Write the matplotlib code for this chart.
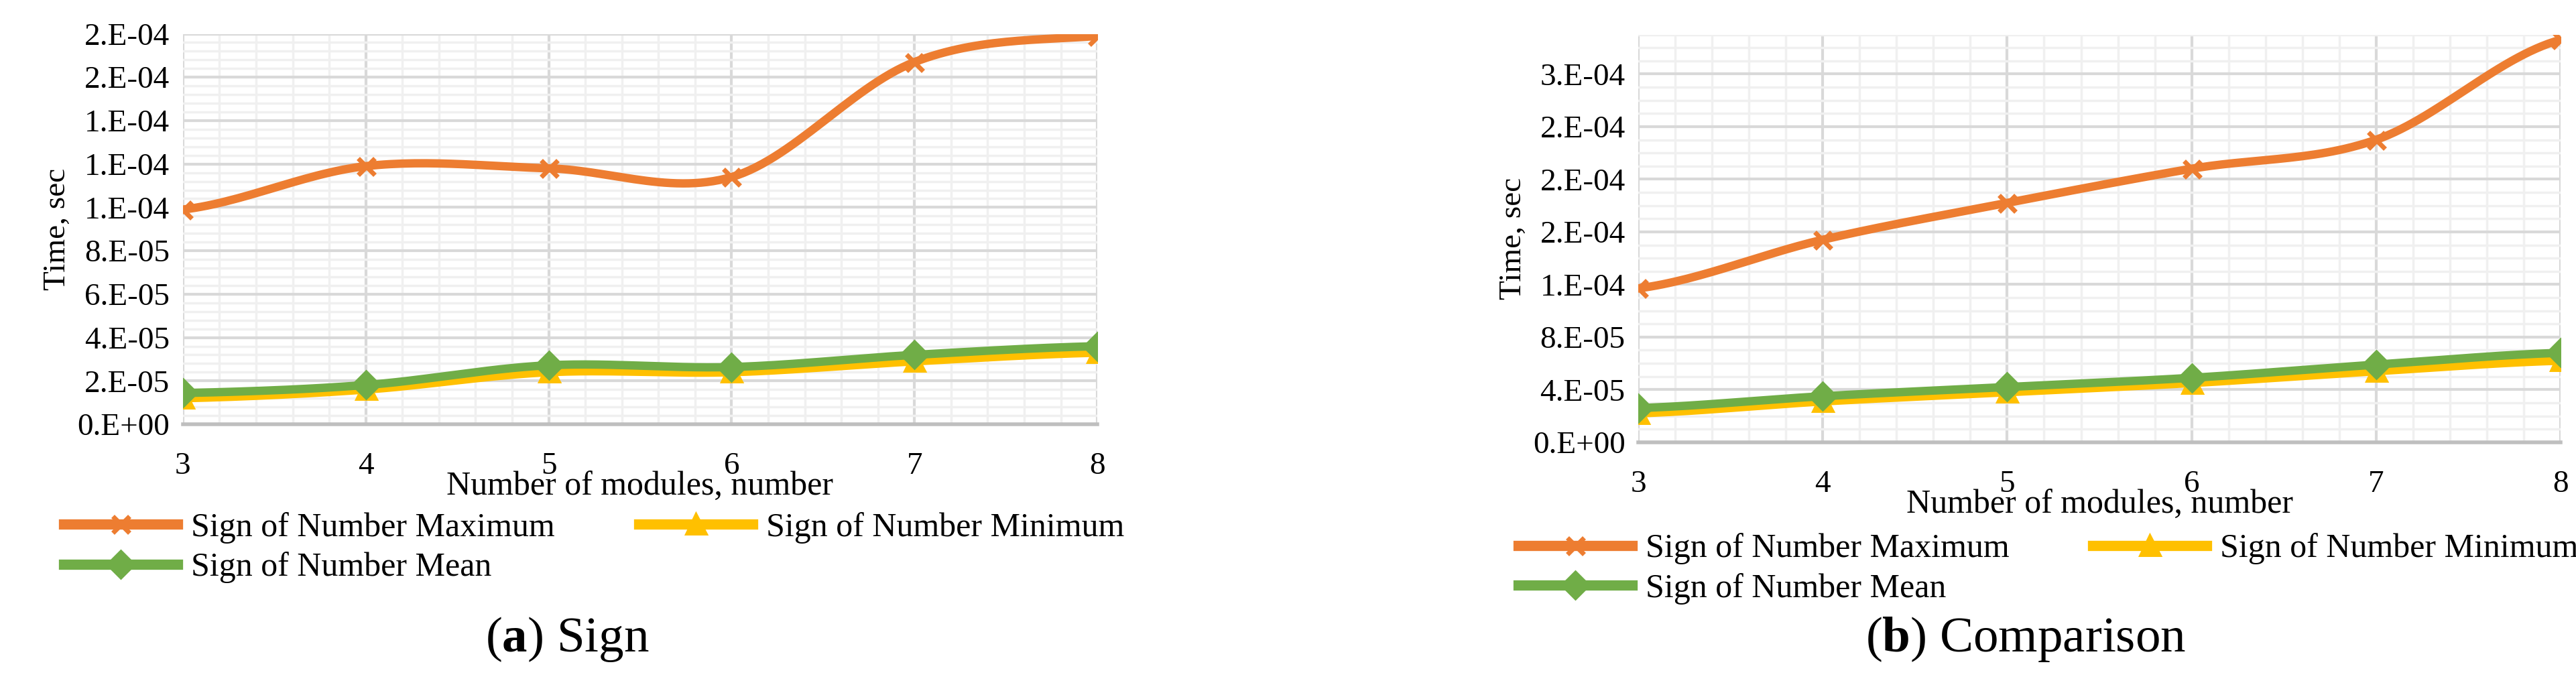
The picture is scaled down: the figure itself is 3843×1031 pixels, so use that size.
import numpy as np
import matplotlib
matplotlib.use("Agg")
import matplotlib.pyplot as plt
from matplotlib.ticker import FixedLocator, MultipleLocator

plt.rcParams['font.family'] = ['Liberation Serif', 'DejaVu Serif']
plt.rcParams['mathtext.fontset'] = 'custom'
plt.rcParams['mathtext.rm'] = 'Liberation Serif'
plt.rcParams['mathtext.bf'] = 'Liberation Serif:bold'

modules = [3, 4, 5, 6, 7, 8]
sign_max = [0.99e-4, 1.19e-4, 1.18e-4, 1.14e-4, 1.67e-4, 1.79e-4]
sign_min = [1.2e-5, 1.6e-5, 2.4e-5, 2.4e-5, 2.9e-5, 3.3e-5]
sign_mean = [1.44e-5, 1.81e-5, 2.72e-5, 2.64e-5, 3.2e-5, 3.6e-5]
cmp_max = [1.17e-4, 1.54e-4, 1.82e-4, 2.08e-4, 2.30e-4, 3.06e-4]
cmp_min = [2.2e-5, 3.1e-5, 3.8e-5, 4.5e-5, 5.4e-5, 6.2e-5]
cmp_mean = [2.6e-5, 3.5e-5, 4.2e-5, 4.9e-5, 5.9e-5, 6.8e-5]
series_names = ["Sign of Number Maximum", "Sign of Number Minimum", "Sign of Number Mean"]
captions = [("a", "Sign"), ("b", "Comparison")]

def smooth(x, y, n=30):
    x = np.asarray(x, float); y = np.asarray(y, float)
    xs, ys = [], []
    for i in range(len(x) - 1):
        p0 = y[i - 1] if i > 0 else y[i]
        p1, p2 = y[i], y[i + 1]
        p3 = y[i + 2] if i + 2 < len(y) else y[i + 1]
        t = np.linspace(0, 1, n, endpoint=False)
        yy = 0.5 * ((2 * p1) + (-p0 + p2) * t + (2 * p0 - 5 * p1 + 4 * p2 - p3) * t**2
                    + (-p0 + 3 * p1 - 3 * p2 + p3) * t**3)
        xs.append(x[i] + t * (x[i + 1] - x[i])); ys.append(yy)
    xs.append([x[-1]]); ys.append([y[-1]])
    return np.concatenate(xs), np.concatenate(ys)

def fmt(v):
    if v == 0:
        return "0.E+00"
    e = int(np.floor(np.log10(abs(v))))
    m = v / 10**e
    if round(m) >= 10:
        m /= 10; e += 1
    return f"{int(round(m))}.E{e:+03d}"

fig = plt.figure(figsize=(38.43, 10.31), dpi=100)
colors = ["#ED7D31", "#FFC000", "#70AD47"]
markers = ["x", "^", "D"]
panels = [
    ([0.071, 0.386, 0.355, 0.565], [sign_max, sign_min, sign_mean], 2e-5, 1.8e-4, 0.4e-5),
    ([0.636, 0.36, 0.358, 0.59], [cmp_max, cmp_min, cmp_mean], 4e-5, 3.1e-4, 1e-5),
]
for k, (rect, data, step, top, minor) in enumerate(panels):
    ax = fig.add_axes(rect)
    handles = []
    for ys, c, m, nm in zip(data, colors, markers, series_names):
        xs, yy = smooth(modules, ys)
        ax.plot(xs, yy, color=c, lw=9, solid_capstyle='round', zorder=3)
        ax.plot(modules, ys, ls='none', marker=m, color=c, ms=18, mew=5, zorder=4)
        h, = ax.plot([], [], color=c, lw=11, marker=m, ms=18, mew=5, label=nm)
        handles.append(h)
    ax.set_xlim(3, 8)
    ax.set_ylim(0, top)
    ticks = np.arange(0, top + 1e-12, step)
    ax.yaxis.set_major_locator(FixedLocator(ticks))
    ax.set_yticklabels([fmt(t) for t in ticks])
    ax.yaxis.set_minor_locator(MultipleLocator(minor))
    ax.xaxis.set_major_locator(FixedLocator(modules))
    ax.xaxis.set_minor_locator(MultipleLocator(0.2))
    ax.grid(which='major', color='#D9D9D9', lw=3)
    ax.grid(which='minor', color='#F0F0F0', lw=2.5)
    ax.set_axisbelow(True)
    for s in ['top', 'left', 'right']:
        ax.spines[s].set_visible(False)
    ax.spines['bottom'].set_color('#BFBFBF'); ax.spines['bottom'].set_linewidth(4)
    ax.tick_params(which='both', length=0, labelsize=34, pad=14)
    ax.tick_params(axis='x', pad=30)
    ax.set_ylabel("Time, sec", fontsize=34, labelpad=6)
    ax.set_xlabel("Number of modules, number", fontsize=36, labelpad=-10)
    order = [handles[0], handles[2], handles[1]]
    ax.legend(handles=order, ncol=2, loc='upper left', bbox_to_anchor=(-0.145, -0.19),
              frameon=False, fontsize=36, handlelength=3.4, columnspacing=2.5,
              borderaxespad=0, labelspacing=0.25, handletextpad=0.4)
    cx = rect[0] + rect[2] * 0.42
    fig.text(cx, 0.075, f"($\\mathbf{{{captions[k][0]}}}$) {captions[k][1]}", fontsize=54,
             ha='center', va='center')
fig.savefig("out.png", dpi=100, facecolor='white')
